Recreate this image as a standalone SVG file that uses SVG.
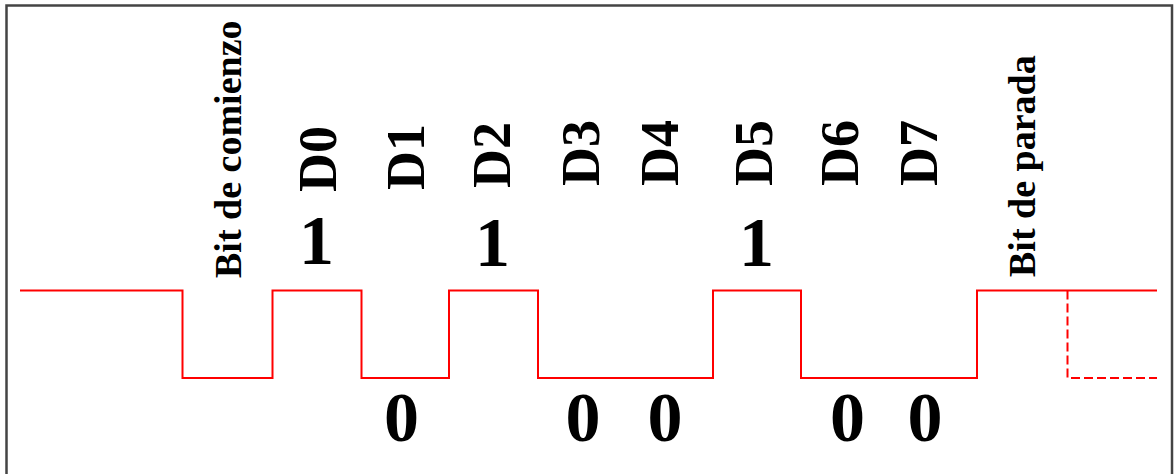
<svg xmlns="http://www.w3.org/2000/svg" width="1175" height="474" viewBox="0 0 1175 474">
<style>
.lbl{font-family:"Liberation Serif","Times New Roman",serif;font-weight:bold;fill:#000}
.big{font-size:54px}
.mid{font-size:38px}
.dig{font-size:70px;text-anchor:middle}
.sig{fill:none;stroke:#ff0000;stroke-width:2}
</style>
<rect x="0" y="0" width="1175" height="474" fill="#ffffff"/>
<rect x="6.5" y="5.5" width="1165.5" height="480" fill="none" stroke="#444444" stroke-width="2.5"/>
<g id="connectors">
<path class="sig" d="M20,290.5 H182.5 V378 H272.5 V290.5 H361.5 V378 H449 V290.5 H538 V378 H713 V290.5 H801 V378 H977 V290.5 H1157"/>
<path class="sig" stroke-dasharray="9 4" d="M1067.5,290.5 V378 H1157"/>
</g>
<g id="start-bit"><text class="lbl mid" transform="translate(240.5,278) rotate(-90)">Bit de comienzo</text></g>
<g id="d0"><text class="lbl big" transform="translate(336,192) rotate(-90)">D0</text><text class="lbl dig" x="316.5" y="264">1</text></g>
<g id="d1"><text class="lbl big" transform="translate(424,190) rotate(-90)">D1</text><text class="lbl dig" x="401.5" y="441">0</text></g>
<g id="d2"><text class="lbl big" transform="translate(510,188) rotate(-90)">D2</text><text class="lbl dig" x="492.5" y="266">1</text></g>
<g id="d3"><text class="lbl big" transform="translate(599,186) rotate(-90)">D3</text><text class="lbl dig" x="583" y="441">0</text></g>
<g id="d4"><text class="lbl big" transform="translate(678,186) rotate(-90)">D4</text><text class="lbl dig" x="665" y="441">0</text></g>
<g id="d5"><text class="lbl big" transform="translate(772,186) rotate(-90)">D5</text><text class="lbl dig" x="756.5" y="266">1</text></g>
<g id="d6"><text class="lbl big" transform="translate(858,186) rotate(-90)">D6</text><text class="lbl dig" x="847.5" y="441">0</text></g>
<g id="d7"><text class="lbl big" transform="translate(937,186) rotate(-90)">D7</text><text class="lbl dig" x="925" y="441">0</text></g>
<g id="stop-bit"><text class="lbl mid" transform="translate(1035,277) rotate(-90)">Bit de parada</text></g>
</svg>
